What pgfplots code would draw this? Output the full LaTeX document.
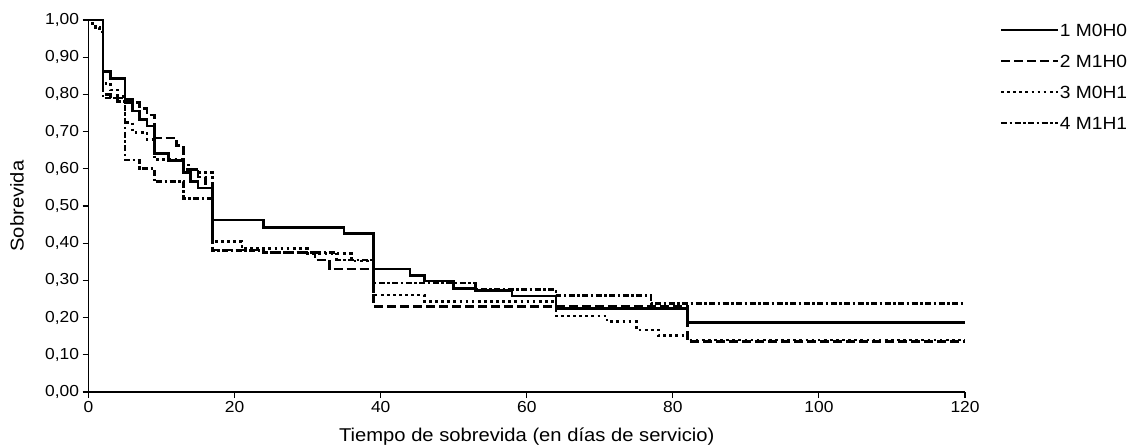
\documentclass[border=0pt]{standalone}
\usepackage{fontspec}
\setmainfont{Liberation Sans}[FakeStretch=1.09]
\usepackage{pgfplots}
\pgfplotsset{compat=1.18}

\begin{document}
\begin{tikzpicture}
\path[use as bounding box] (0,0) rectangle (1138bp,446bp);
\begin{axis}[
  scale only axis, width=876.5bp, height=372bp,
  at={(88.5bp,54bp)}, anchor=south west,
  xmin=0, xmax=120, ymin=0, ymax=1,
  clip=false,
  axis x line*=bottom, axis y line*=left,
  axis line style={line width=1.1bp, -},
  xtick={0,20,40,60,80,100,120},
  ytick={0,0.1,0.2,0.3,0.4,0.5,0.6,0.7,0.8,0.9,1},
  tick align=outside, major tick length=6bp,
  tick style={line width=1.1bp, black},
  /pgf/number format/assume math mode=true,
  scaled ticks=false,
  yticklabel style={/pgf/number format/.cd, fixed, fixed zerofill, precision=2, use comma},
  ticklabel style={font=\fontsize{16}{18}\selectfont},
  xlabel={Tiempo de sobrevida (en días de servicio)},
  ylabel={Sobrevida},
  every axis x label/.style={at={(rel axis cs:0.5,-0.1336)}, anchor=base,
    font=\fontsize{18.6}{21}\selectfont},
  every axis y label/.style={at={(rel axis cs:-0.0816,0.5)}, rotate=90, anchor=center,
    font=\fontsize{18.6}{21}\selectfont},
  legend image code/.code={\draw[#1, line width=1.7bp] (0bp,0bp) -- (57bp,0bp);},
  legend style={draw=none, fill=none, inner sep=0pt,
    at={(rel axis cs:1.0399,0.9911)}, anchor=north west,
    font=\fontsize{17.7}{20}\selectfont,
    nodes={inner sep=0pt, text height=12.7bp, text depth=0bp},
    row sep=18.3bp, column sep=1bp},
  legend cell align=left,
  every axis plot/.append style={const plot, line width=2.7bp, black},
]
% 1 M0H0
\addplot[solid] coordinates {
  (0,1.000) (2,0.862) (3,0.842) (5,0.786) (6,0.755) (7,0.733) (8,0.715)
  (9,0.642) (11,0.623) (13,0.590) (14,0.566) (15,0.548) (17,0.462)
  (24,0.443) (35,0.427) (39,0.331) (44,0.314) (46,0.298) (50,0.279)
  (53,0.273) (58,0.258) (64,0.225) (82,0.187) (120,0.187)
};
\addlegendentry{1 M0H0}
% 2 M1H0
\addplot[dash pattern=on 9bp off 4bp] coordinates {
  (0,1.000) (2,0.800) (3,0.790) (5,0.778) (7,0.763) (8,0.745) (9,0.683)
  (12,0.663) (13,0.598) (15,0.578) (16,0.560) (17,0.382) (24,0.375)
  (31,0.355) (33,0.331) (39,0.230) (82,0.135) (120,0.135)
};
\addlegendentry{2 M1H0}
% 3 M0H1
\addplot[dash pattern=on 2.7bp off 3.4bp] coordinates {
  (0,1.000) (0.5,0.990) (1,0.980) (1.5,0.968) (2,0.830) (3,0.812) (4,0.795)
  (5,0.725) (6,0.698) (8,0.678) (9,0.625) (13,0.610) (14,0.598) (15,0.590)
  (17,0.405) (21,0.385) (30,0.372) (36,0.352) (39,0.261) (46,0.243)
  (64,0.204) (71,0.189) (75,0.167) (78,0.151) (82,0.140) (120,0.140)
};
\addlegendentry{3 M0H1}
% 4 M1H1
\addplot[dash pattern=on 6bp off 2.5bp on 2.5bp off 2.5bp] coordinates {
  (0,1.000) (2,0.790) (4,0.780) (5,0.624) (7,0.600) (9,0.565) (13,0.520)
  (17,0.380) (24,0.375) (34,0.355) (39,0.293) (53,0.276) (64,0.259)
  (77,0.237) (120,0.237)
};
\addlegendentry{4 M1H1}
\end{axis}
\end{tikzpicture}
\end{document}
